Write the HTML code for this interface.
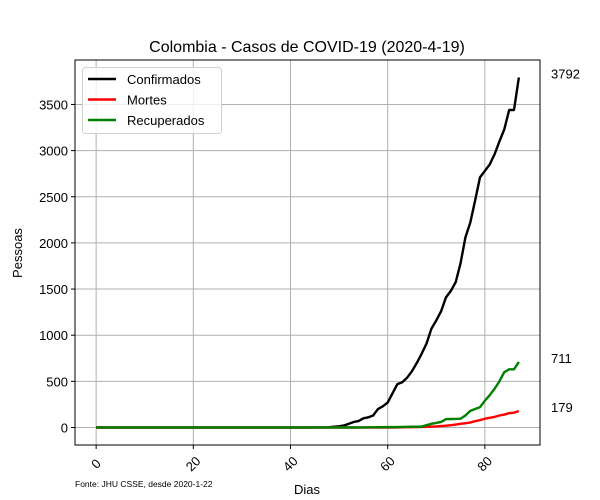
<!DOCTYPE html>
<html><head><meta charset="utf-8"><style>
body{margin:0;background:#fff;}
svg{display:block;font-family:"Liberation Sans","DejaVu Sans",sans-serif;}
</style></head><body>
<svg id="chart" width="600" height="500"></svg>
<script>
const days = [];
for (let i = 0; i <= 87; i++) days.push(i);
const confirmados = [0,0,0,0,0,0,0,0,0,0,0,0,0,0,0,0,0,0,0,0,0,0,0,0,0,0,0,0,0,0,0,0,0,0,0,0,0,0,0,0,0,0,0,0,1,1,1,1,3,9,13,22,40,60,70,100,110,130,200,230,270,370,470,490,540,610,700,800,910,1070,1160,1260,1410,1480,1575,1780,2060,2220,2460,2710,2780,2850,2960,3100,3230,3440,3440,3792];
const mortes = [0,0,0,0,0,0,0,0,0,0,0,0,0,0,0,0,0,0,0,0,0,0,0,0,0,0,0,0,0,0,0,0,0,0,0,0,0,0,0,0,0,0,0,0,0,0,0,0,0,0,0,0,0,0,0,0,0,0,0,0,0,0,1,2,3,4,5,6,7,9,12,16,20,25,32,40,46,54,68,80,95,105,115,130,140,155,160,179];
const recuperados = [0,0,0,0,0,0,0,0,0,0,0,0,0,0,0,0,0,0,0,0,0,0,0,0,0,0,0,0,0,0,0,0,0,0,0,0,0,0,0,0,0,0,0,0,0,0,0,0,0,0,0,0,0,0,1,1,2,2,3,3,4,4,5,6,7,8,9,10,25,40,50,60,90,92,93,95,130,180,200,220,290,350,420,500,600,630,630,711];
const xTicks = [0,20,40,60,80];
const yTicks = [0,500,1000,1500,2000,2500,3000,3500];
const seriesNames = ["Confirmados","Mortes","Recuperados"];

const L=75,R=540,T=60,B=445;
const xMin=-4.35,xMax=91.35,yMin=-189.6,yMax=3981.6;
const xs=v=>L+(v-xMin)/(xMax-xMin)*(R-L);
const ys=v=>B-(v-yMin)/(yMax-yMin)*(B-T);
const svg=document.getElementById('chart');
const NS='http://www.w3.org/2000/svg';
function mk(tag,attrs,parent){const e=document.createElementNS(NS,tag);for(const k in attrs)e.setAttribute(k,attrs[k]);(parent||svg).appendChild(e);return e;}

xTicks.forEach(t=>{
  const g=mk('line',{x1:xs(t),x2:xs(t),y1:T,y2:B,stroke:'#b0b0b0','stroke-width':1});
  
  
  const tk=mk('line',{x1:xs(t),x2:xs(t),y1:B,y2:B+4,stroke:'#000'});
  
  
  const lb=mk('text',{x:0,y:0,'font-size':13,'text-anchor':'middle',transform:`translate(${xs(t)+3},${B+22}) rotate(-45)`});
  lb.textContent=t;
  
  
});
yTicks.forEach(t=>{
  const g=mk('line',{x1:L,x2:R,y1:ys(t),y2:ys(t),stroke:'#b0b0b0','stroke-width':1});
  
  
  const tk=mk('line',{x1:L-4,x2:L,y1:ys(t),y2:ys(t),stroke:'#000'});
  
  
  const lb=mk('text',{x:L-7,y:ys(t)+5,'font-size':13,'text-anchor':'end'});
  lb.textContent=t;
  
  
});

const colors=['#000000','#ff0000','#008000'];
const data=[confirmados,mortes,recuperados];
[0,1,2].forEach(i=>{
  const pts=data[i].map((v,j)=>xs(days[j]).toFixed(2)+','+ys(v).toFixed(2)).join(' ');
  const p=mk('polyline',{points:pts,fill:'none',stroke:colors[i],'stroke-width':2.4,'stroke-linejoin':'round'});
  
  
  const last=data[i][data[i].length-1];
  const lbl=mk('text',{x:551,y:ys(last)+1,'font-size':13});
  lbl.textContent=last;
  
  
});

const frame=mk('rect',{x:L,y:T,width:R-L,height:B-T,fill:'none',stroke:'#000','stroke-width':1});



const lg=mk('g',{});


mk('rect',{x:82.5,y:67.5,width:139,height:66,rx:3,fill:'#fff','fill-opacity':0.8,stroke:'#d0d0d0'},lg);
seriesNames.forEach((n,i)=>{
  const y=79+i*20.5;
  const e=mk('g',{},lg);
  
  
  mk('line',{x1:88,x2:116,y1:y,y2:y,stroke:colors[i],'stroke-width':2.4},e);
  const t=mk('text',{x:127,y:y+5,'font-size':13},e);
  t.textContent=n;
});

const title=mk('text',{x:307,y:52,'font-size':16,'text-anchor':'middle'});
title.textContent='Colombia - Casos de COVID-19 (2020-4-19)';


const xt=mk('text',{x:307,y:494,'font-size':13,'text-anchor':'middle'});
xt.textContent='Dias';


const yt=mk('text',{x:0,y:0,'font-size':13,'text-anchor':'middle',transform:'translate(22,253) rotate(-90)'});
yt.textContent='Pessoas';


const src=mk('text',{x:75,y:487,'font-size':8.5});
src.textContent='Fonte: JHU CSSE, desde 2020-1-22';


</script>
</body></html>
